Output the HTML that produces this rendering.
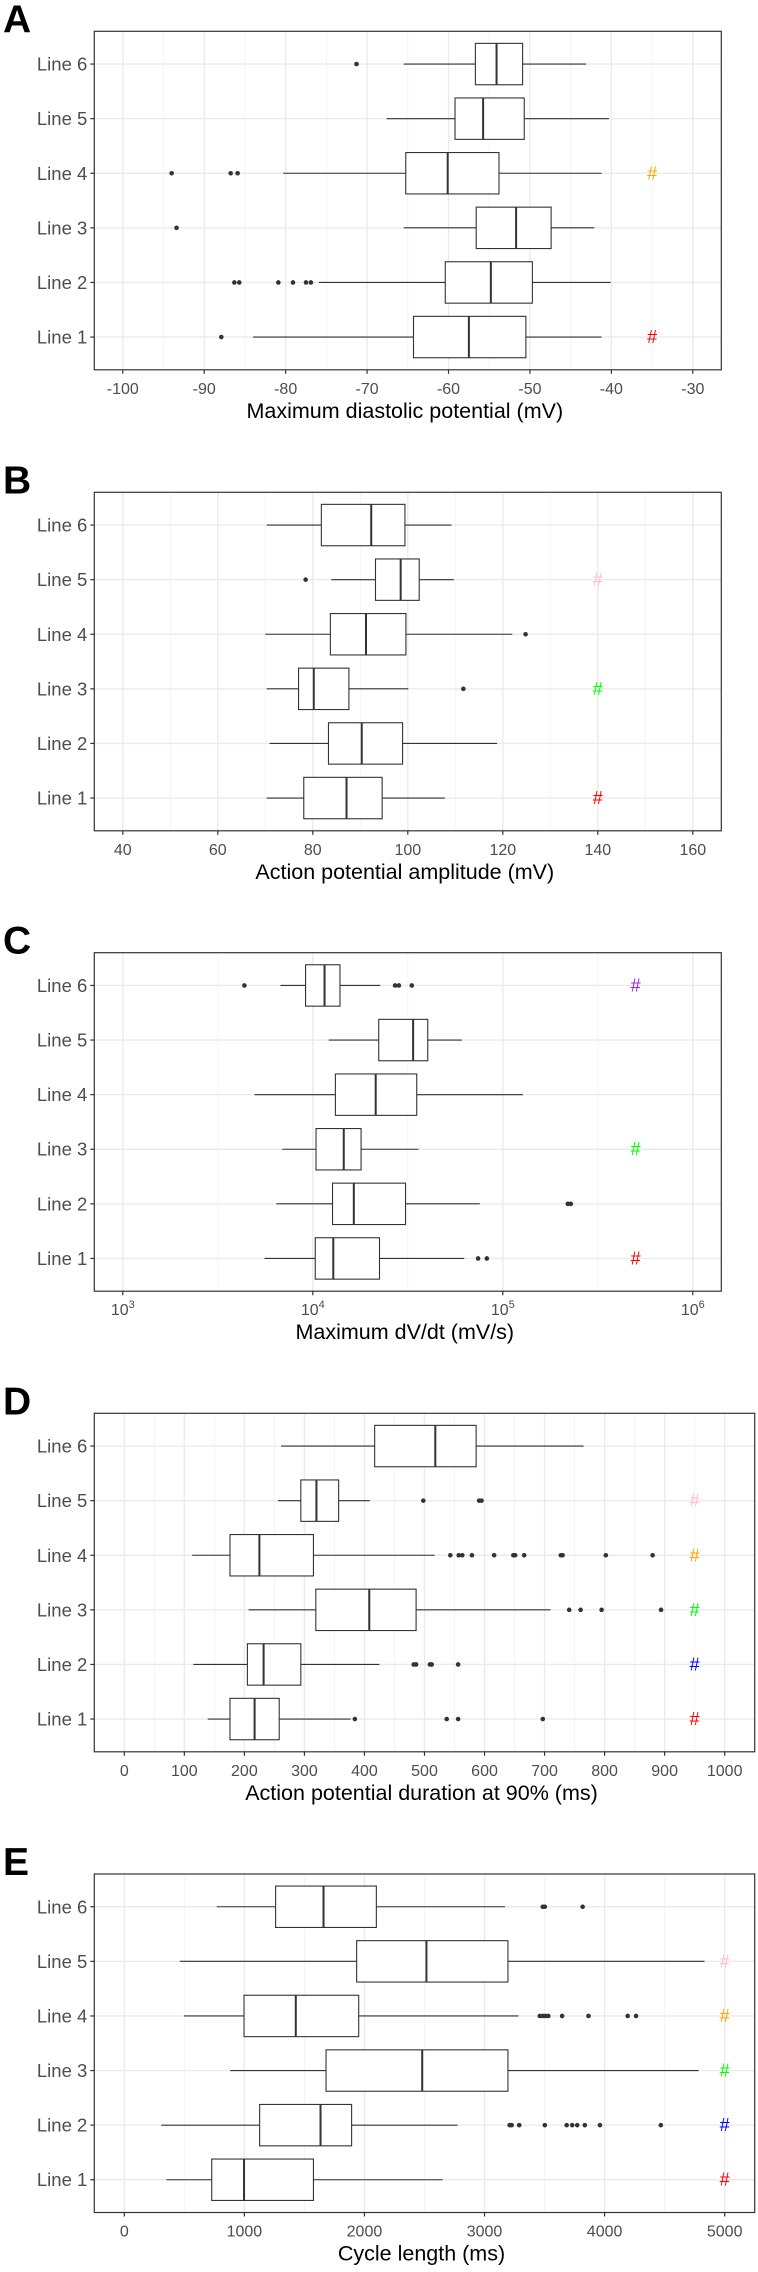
<!DOCTYPE html>
<html><head><meta charset="utf-8">
<style>
html,body{margin:0;padding:0;background:#fff;}
svg{display:block;font-family:"Liberation Sans",Arial,sans-serif;}
</style></head>
<body>
<svg id="fig" width="758" height="2272" viewBox="0 0 758 2272" xmlns="http://www.w3.org/2000/svg"></svg>
<script>
const categories = ["Line 1","Line 2","Line 3","Line 4","Line 5","Line 6"];

// Panel A: Maximum diastolic potential (mV)
const aMin = [-84, -75.9, -65.5, -80.3, -67.6, -65.5];
const aQ1 = [-64.3, -60.4, -56.6, -65.25, -59.2, -56.7];
const aMed = [-57.5, -54.8, -51.7, -60.1, -55.75, -54.1];
const aQ3 = [-50.5, -49.7, -47.4, -53.8, -50.7, -50.9];
const aMax = [-41.2, -40.1, -42.1, -41.2, -40.3, -43.1];
const aOut = [[-87.9], [-86.3,-85.7,-80.9,-79.1,-77.5,-76.9], [-93.4], [-94,-86.75,-85.9], [], [-71.3]];
const aTicks = [-100,-90,-80,-70,-60,-50,-40,-30];
const aHash = [["Line 4","#FFA500"],["Line 1","#FF0000"]];

// Panel B: Action potential amplitude (mV)
const bMin = [70.3, 70.9, 70.3, 70, 83.9, 70.3];
const bQ1 = [78.1, 83.3, 77, 83.7, 93.2, 81.8];
const bMed = [87.1, 90.3, 80.2, 91.2, 98.5, 92.3];
const bQ3 = [94.6, 98.9, 87.6, 99.6, 102.4, 99.4];
const bMax = [107.8, 118.8, 100.1, 122, 109.7, 109.2];
const bOut = [[], [], [111.7], [124.8], [78.5], []];
const bTicks = [40,60,80,100,120,140,160];
const bHash = [["Line 5","#FFC0CB"],["Line 3","#00FF00"],["Line 1","#FF0000"]];

// Panel C: Maximum dV/dt (mV/s), log scale
const cMin = [5570, 6430, 6900, 4930, 12130, 6760];
const cQ1 = [10300, 12700, 10400, 13150, 22230, 9160];
const cMed = [12820, 16440, 14550, 21430, 33730, 11530];
const cQ3 = [22440, 30760, 17950, 35240, 40270, 13900];
const cMax = [62660, 75680, 35970, 127600, 60810, 22650];
const cOut = [[74130, 82410], [219800, 228000], [], [], [], [4365, 27100, 28380, 33190]];
const cTicks = [1000, 10000, 100000, 1000000];
const cTickExp = ["3","4","5","6"];
const cHash = [["Line 6","#A020F0"],["Line 3","#00FF00"],["Line 1","#FF0000"]];

// Panel D: Action potential duration at 90% (ms)
const dMin = [139, 115, 207, 113, 256, 261];
const dQ1 = [176, 205, 319, 176, 294, 417];
const dMed = [217, 232, 408, 225, 320, 518];
const dQ3 = [258, 294, 486, 315, 357, 586];
const dMax = [377, 425, 710, 517, 409, 765];
const dOut = [[384,537,556,697], [482,486,509,512,556], [741,760,795,894], [543,557,563,579,616,648,651,666,727,730,802,880], [498,591,595], []];
const dTicks = [0,100,200,300,400,500,600,700,800,900,1000];
const dHash = [["Line 5","#FFC0CB"],["Line 4","#FFA500"],["Line 3","#00FF00"],["Line 2","#0000FF"],["Line 1","#FF0000"]];

// Panel E: Cycle length (ms)
const eMin = [350, 308, 882, 497, 462, 770];
const eQ1 = [728, 1127, 1680, 997, 1935, 1260];
const eMed = [997, 1634, 2481, 1428, 2516, 1659];
const eQ3 = [1575, 1893, 3195, 1952, 3195, 2099];
const eMax = [2652, 2775, 4783, 3282, 4832, 3170];
const eOut = [[], [3209,3226,3289,3502,3684,3730,3772,3835,3961,4468], [], [3460,3485,3506,3531,3646,3866,4192,4262], [], [3485,3502,3817]];
const eTicks = [0,1000,2000,3000,4000,5000];
const eHash = [["Line 5","#FFC0CB"],["Line 4","#FFA500"],["Line 3","#00FF00"],["Line 2","#0000FF"],["Line 1","#FF0000"]];

const NS = "http://www.w3.org/2000/svg";
const svg = document.getElementById("fig");
function mk(tag, attrs, parent){
  const e = document.createElementNS(NS, tag);
  for (const k in attrs) e.setAttribute(k, attrs[k]);
  (parent||svg).appendChild(e);
  return e;
}

function panel(p){
  const g = mk("g", {});
  
  
  const L = 94.3, R = p.right, T = p.top, B = p.top + 338.5;
  const tf = p.log ? (v => Math.log10(v)) : (v => v);
  const lo = tf(p.ticks[0]), hi = tf(p.ticks[p.ticks.length-1]);
  const span = hi - lo, dlo = lo - 0.05*span, dhi = hi + 0.05*span;
  const x = v => L + (tf(v) - dlo) / (dhi - dlo) * (R - L);
  const xt = t => L + (t - dlo) / (dhi - dlo) * (R - L);
  const step = (B - T) / 6.2;
  const y = i => B - step * (0.6 + i);
  const yc = name => y(categories.indexOf(name));

  const letter = mk("text", {x: 3, y: T + 1, "font-size": 39, "font-weight": "bold", fill: "#000"}, g);
  letter.textContent = p.letter;
  
  

  // minor grid
  for (let k = 0; k < p.ticks.length - 1; k++) {
    const m = (tf(p.ticks[k]) + tf(p.ticks[k+1])) / 2;
    const gl = mk("line", {x1: xt(m), x2: xt(m), y1: T, y2: B, stroke: "#f2f2f2", "stroke-width": 0.8}, g);
    
    
  }
  // major grid x
  p.ticks.forEach(t => {
    const gl = mk("line", {x1: x(t), x2: x(t), y1: T, y2: B, stroke: "#ebebeb", "stroke-width": 1.4}, g);
    
    
  });
  // major grid y
  categories.forEach((c, i) => {
    const gl = mk("line", {x1: L, x2: R, y1: y(i), y2: y(i), stroke: "#ebebeb", "stroke-width": 1.4}, g);
    
    
  });

  // boxes
  categories.forEach((c, i) => {
    const cy = y(i), h = 20.7;
    const bg = mk("g", {stroke: "#333", "stroke-width": 1.1, fill: "none"}, g);
    
    
    mk("line", {x1: x(p.min[i]), x2: x(p.q1[i]), y1: cy, y2: cy}, bg);
    mk("line", {x1: x(p.q3[i]), x2: x(p.max[i]), y1: cy, y2: cy}, bg);
    mk("rect", {x: x(p.q1[i]), y: cy - h, width: x(p.q3[i]) - x(p.q1[i]), height: 2*h, fill: "#fff"}, bg);
    mk("line", {x1: x(p.med[i]), x2: x(p.med[i]), y1: cy - h, y2: cy + h, "stroke-width": 2}, bg);
    p.out[i].forEach(v => {
      const o = mk("circle", {cx: x(v), cy: cy, r: 2.3, fill: "#333", stroke: "none"}, g);
      
      
    });
  });

  // significance marks
  p.hash.forEach(hh => {
    const t = mk("text", {x: x(p.hashX), y: yc(hh[0]) + 6, "font-size": 18, fill: hh[1], "text-anchor": "middle"}, g);
    t.textContent = "#";
    
    
  });

  // frame
  const fr = mk("rect", {x: L, y: T, width: R - L, height: B - T, fill: "none", stroke: "#333", "stroke-width": 1.2}, g);
  
  

  // y-axis ticks and labels
  categories.forEach((c, i) => {
    mk("line", {x1: L - 4, x2: L, y1: y(i), y2: y(i), stroke: "#333", "stroke-width": 1.2}, g);
    const t = mk("text", {x: L - 7, y: y(i) + 6.5, "font-size": 18.5, fill: "#4d4d4d", "text-anchor": "end"}, g);
    t.textContent = c;
    
    
  });
  // x ticks
  p.ticks.forEach((tv, k) => {
    mk("line", {x1: x(tv), x2: x(tv), y1: B, y2: B + 4, stroke: "#333", "stroke-width": 1.2}, g);
    const t = mk("text", {x: x(tv), y: B + 24, "font-size": 16, fill: "#4d4d4d", "text-anchor": "middle"}, g);
    if (p.exp) {
      t.textContent = "10";
      const s = mk("tspan", {dy: -7, "font-size": 11}, t);
      s.textContent = p.exp[k];
    } else {
      t.textContent = String(tv);
    }
    
    
  });
  const at = mk("text", {x: (L + R) / 2 - 3, y: B + 48, "font-size": 21.5, fill: "#000", "text-anchor": "middle"}, g);
  at.textContent = p.title;
  
  
}

panel({letter:"A", top:31.3, right:721.3, ticks:aTicks, min:aMin, q1:aQ1, med:aMed, q3:aQ3, max:aMax, out:aOut, hash:aHash, hashX:-35, title:"Maximum diastolic potential (mV)"});
panel({letter:"B", top:492.3, right:721.3, ticks:bTicks, min:bMin, q1:bQ1, med:bMed, q3:bQ3, max:bMax, out:bOut, hash:bHash, hashX:140, title:"Action potential amplitude (mV)"});
panel({letter:"C", top:952.7, right:721.3, log:true, ticks:cTicks, exp:cTickExp, min:cMin, q1:cQ1, med:cMed, q3:cQ3, max:cMax, out:cOut, hash:cHash, hashX:500000, title:"Maximum dV/dt (mV/s)"});
panel({letter:"D", top:1413.3, right:754.7, ticks:dTicks, min:dMin, q1:dQ1, med:dMed, q3:dQ3, max:dMax, out:dOut, hash:dHash, hashX:950, title:"Action potential duration at 90% (ms)"});
panel({letter:"E", top:1874, right:754.7, ticks:eTicks, min:eMin, q1:eQ1, med:eMed, q3:eQ3, max:eMax, out:eOut, hash:eHash, hashX:5000, title:"Cycle length (ms)"});
</script>
</body></html>
